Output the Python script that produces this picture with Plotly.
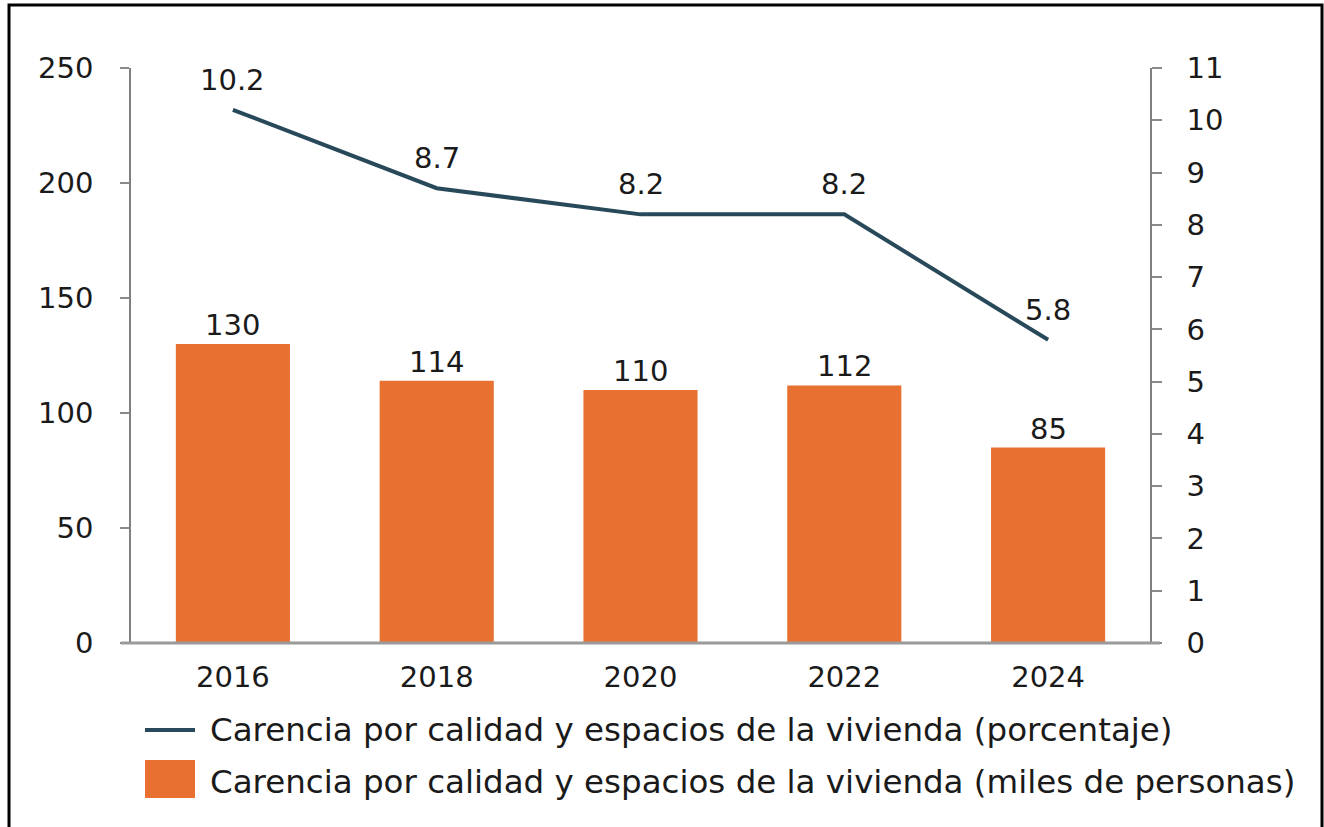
import plotly.graph_objects as go

years = [2016, 2018, 2020, 2022, 2024]
personas = [130, 114, 110, 112, 85]
porcentaje = [10.2, 8.7, 8.2, 8.2, 5.8]
left_ticks = [0, 50, 100, 150, 200, 250]
right_ticks = list(range(0, 12))
name_line = "Carencia por calidad y espacios de la vivienda (porcentaje)"
name_bar = "Carencia por calidad y espacios de la vivienda (miles de personas)"

BAR = "#E87132"
LINE = "#28495A"
TXT = "#1a1a1a"
FONT = "DejaVu Sans"
FS = 29
FS_LEG = 32.5

W, H = 1324, 827
L, R, T, B = 131, 174, 68, 184
pw, ph = W - L - R, H - T - B

def px(x):
    return (x - L) / pw

def py(y):
    return (H - B - y) / ph

fig = go.Figure()
fig.add_trace(go.Bar(x=years, y=personas, marker=dict(color=BAR, line=dict(width=0)),
                     name=name_bar, yaxis="y", showlegend=False, hoverinfo="skip"))
fig.add_trace(go.Scatter(x=years, y=porcentaje, mode="lines", line=dict(color=LINE, width=4),
                         name=name_line, yaxis="y2", showlegend=False, hoverinfo="skip"))

ann = []
for x, v in zip(years, personas):
    ann.append(dict(x=x, y=v, xref="x", yref="y", text=str(v), showarrow=False,
                    yanchor="middle", yshift=19, font=dict(size=FS, color=TXT, family=FONT)))
for x, v in zip(years, porcentaje):
    ann.append(dict(x=x, y=v, xref="x", yref="y2", text=f"{v:.1f}", showarrow=False,
                    yanchor="middle", yshift=30, font=dict(size=FS, color=TXT, family=FONT)))
# legend text
ann.append(dict(x=px(208), y=py(730), xref="paper", yref="paper", text=name_line, showarrow=False,
                xanchor="left", yanchor="middle", font=dict(size=FS_LEG, color=TXT, family=FONT)))
ann.append(dict(x=px(208), y=py(782), xref="paper", yref="paper", text=name_bar, showarrow=False,
                xanchor="left", yanchor="middle", font=dict(size=FS_LEG, color=TXT, family=FONT)))

shapes = [
    dict(type="line", xref="paper", yref="paper", x0=px(145), x1=px(195), y0=py(730), y1=py(730),
         line=dict(color=LINE, width=4)),
    dict(type="rect", xref="paper", yref="paper", x0=px(145), x1=px(195), y0=py(760), y1=py(798),
         line=dict(width=0), fillcolor=BAR),
    dict(type="rect", xref="paper", yref="paper", x0=px(9), x1=px(1322), y0=py(5), y1=py(835),
         line=dict(color="#000000", width=3), fillcolor="rgba(0,0,0,0)", layer="above"),
    # extend x-axis line across tick marks
    dict(type="line", xref="paper", yref="paper", x0=px(121), x1=px(1160), y0=0, y1=0,
         line=dict(color="#9a9a9a", width=3)),
]

fig.update_layout(
    width=W, height=H,
    margin=dict(l=L, r=R, t=T, b=B, pad=0),
    paper_bgcolor="white", plot_bgcolor="white",
    bargap=0.44,
    font=dict(family=FONT, size=FS, color=TXT),
    xaxis=dict(range=[years[0] - 1, years[-1] + 1], tickvals=years, ticktext=[str(y) for y in years],
               showgrid=False, showline=False, ticks="",
               tickfont=dict(size=FS, color=TXT), ticklabelstandoff=14, zeroline=False),
    yaxis=dict(range=[0, 250], tickvals=left_ticks, showgrid=False, zeroline=False,
               showline=True, linecolor="#808080", linewidth=1.5,
               ticks="outside", ticklen=9, tickcolor="#8a8a8a", tickwidth=2,
               tickfont=dict(size=FS, color=TXT), ticklabelstandoff=21),
    yaxis2=dict(range=[0, 11], tickvals=right_ticks, overlaying="y", side="right",
                showgrid=False, zeroline=False, showline=True, linecolor="#808080", linewidth=1.5,
                ticks="outside", ticklen=10, tickcolor="#8a8a8a", tickwidth=2,
                tickfont=dict(size=FS, color=TXT), ticklabelstandoff=19),
    annotations=ann,
    shapes=shapes,
    showlegend=False,
)

fig.write_html("out.html", config={"displayModeBar": False},
               post_script="document.body.style.margin='0px';")
